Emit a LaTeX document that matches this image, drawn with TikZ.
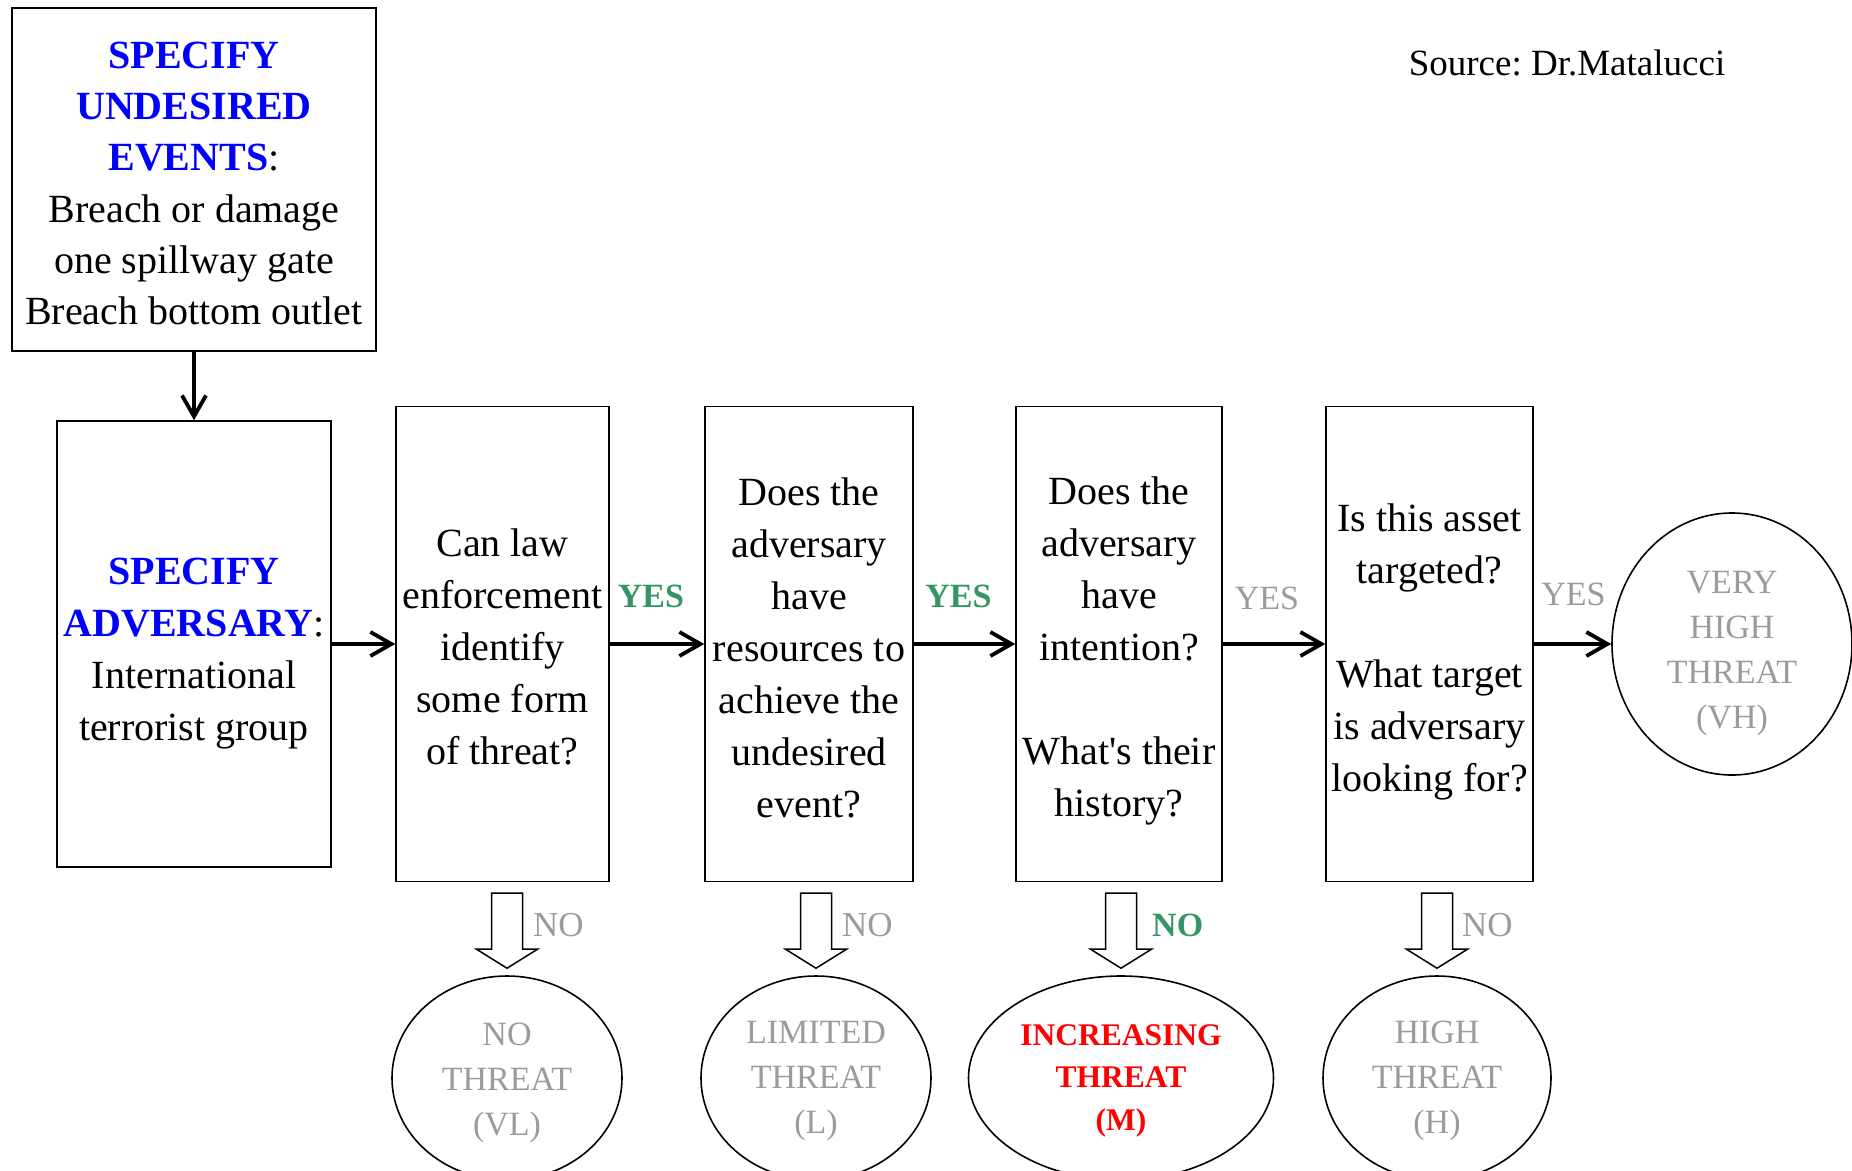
\documentclass[tikz,border=0pt]{standalone}
\usepackage{fontspec}
\setmainfont{Liberation Serif}[Ligatures=TeXOff]
\usetikzlibrary{arrows.meta,shapes.geometric,calc}
\frenchspacing

\definecolor{titleblue}{RGB}{0,0,255}
\definecolor{yesgreen}{RGB}{52,150,100}
\definecolor{mutedgray}{RGB}{155,155,155}
\definecolor{alertred}{RGB}{255,0,0}

% hollow block arrow pointing down onto an outcome ellipse
\newcommand\hollowdown[1]{%
  \draw[hollow] ($(#1.north)+(0,-7)$) -- ++(-30.5,-19) -- ++(15,0) -- ++(0,-56)
    -- ++(31,0) -- ++(0,56) -- ++(15,0) -- cycle;}

\newcommand\hd[1]{\textcolor{titleblue}{\textbf{#1}}}

\begin{document}
\begin{tikzpicture}[x=1pt,y=-1pt,
  frame/.style={draw, line width=1.5pt, inner sep=0pt},
  boxtext/.style={inner sep=0pt, align=center, font=\fontsize{40}{52}\selectfont},
  oval/.style={draw, ellipse, line width=1.6pt, inner sep=0pt},
  ovaltext/.style={inner sep=0pt, align=center, text=mutedgray,
    font=\fontsize{34}{45}\selectfont},
  flow/.style={line width=3.4pt, -{Straight Barb[length=21pt,width=24pt,line width=3.8pt]}},
  hollow/.style={draw, line width=1.5pt, fill=white, line join=miter},
  yesbold/.style={inner sep=0pt, text=yesgreen, font=\bfseries\fontsize{34}{40}\selectfont},
  yesplain/.style={inner sep=0pt, text=mutedgray, font=\fontsize{34}{40}\selectfont},
  noplain/.style={inner sep=0pt, anchor=west, text=mutedgray, font=\fontsize{35}{40}\selectfont},
  nobold/.style={inner sep=0pt, anchor=west, text=yesgreen, font=\bfseries\fontsize{34}{40}\selectfont},
]
\useasboundingbox (0,0) rectangle (1852,1170);
\clip (0,0) rectangle (1852,1170);

% source note
\node[inner sep=0pt, font=\fontsize{37}{44}\selectfont] (src) at (1567,63) {Source: Dr.Matalucci};

% input boxes
\node[frame, minimum width=364pt, minimum height=343pt] (events) at (194,179.5) {};
\node[boxtext, font=\fontsize{40}{51.3}\selectfont] (eventstxt) at ($(events.center)+(0,4)$)
  {\hd{SPECIFY}\\\hd{UNDESIRED}\\\hd{EVENTS}:\\Breach or damage\\one spillway gate\\Breach bottom outlet};
\node[frame, minimum width=274pt, minimum height=446pt] (adv) at (194,644) {};
\node[boxtext] (advtxt) at ($(adv.center)+(0,9.5)$)
  {\hd{SPECIFY}\\\hd{ADVERSARY}:\\International\\terrorist group};

% question boxes
\node[frame, minimum width=213pt, minimum height=475pt] (q1) at (502.5,644) {};
\node[boxtext] (q1txt) at ($(q1.center)+(0,3)$)
  {Can law\\enforcement\\identify\\some form\\of threat?};
\node[frame, minimum width=208pt, minimum height=475pt] (q2) at (809,644) {};
\node[boxtext] (q2txt) at ($(q2.center)+(0,3.5)$)
  {Does the\\adversary\\have\\resources to\\achieve the\\undesired\\event?};
\node[frame, minimum width=206pt, minimum height=475pt] (q3) at (1119,644) {};
\node[boxtext] (q3txt) at ($(q3.center)+(0,7)$)
  {Does the\\adversary\\have\\intention?\\[52pt]What's their\\history?};
\node[frame, minimum width=207pt, minimum height=475pt] (q4) at (1429.5,644) {};
\node[boxtext] (q4txt) at ($(q4.center)+(0,7.5)$)
  {Is this asset\\targeted?\\[52pt]What target\\is adversary\\looking for?};

% outcomes
\node[oval, minimum width=240pt, minimum height=262pt] (vh) at (1732,644) {};
\node[ovaltext] (vhtxt) at ($(vh.center)+(0,9)$) {VERY\\HIGH\\THREAT\\(VH)};
\node[oval, minimum width=230pt, minimum height=204pt] (vl) at (507,1078) {};
\node[ovaltext] (vltxt) at ($(vl.center)+(0,5)$) {NO\\THREAT\\(VL)};
\node[oval, minimum width=230pt, minimum height=204pt] (lo) at (816,1078) {};
\node[ovaltext] (lotxt) at ($(lo.center)+(0,3)$) {LIMITED\\THREAT\\(L)};
\node[oval, minimum width=305pt, minimum height=204pt] (md) at (1121,1078) {};
\node[ovaltext, text=alertred, font=\bfseries\fontsize{31.5}{42.5}\selectfont] (mdtxt)
  at ($(md.center)+(0,2.5)$) {INCREASING\\THREAT\\(M)};
\node[oval, minimum width=228pt, minimum height=204pt] (hi) at (1437,1078) {};
\node[ovaltext] (hitxt) at ($(hi.center)+(0,2.5)$) {HIGH\\THREAT\\(H)};

% flow arrows
\draw[flow] (events.south) -- (adv.north);
\draw[flow] (adv.east) -- (q1.west);
\draw[flow] (q1.east) -- node[yesbold, midway, xshift=-6pt, yshift=48pt] (y1) {YES} (q2.west);
\draw[flow] (q2.east) -- node[yesbold, midway, xshift=-6pt, yshift=48pt] (y2) {YES} (q3.west);
\draw[flow] (q3.east) -- node[yesplain, midway, xshift=-7pt, yshift=46pt] (y3) {YES} (q4.west);
\draw[flow] (q4.east) -- node[yesplain, midway, xshift=1pt, yshift=50pt] (y4) {YES} (vh.west);

% "no" branches
\hollowdown{vl}
\hollowdown{lo}
\hollowdown{md}
\hollowdown{hi}
\node[noplain] (n1) at ($(vl.north)+(26,-50)$) {NO};
\node[noplain] (n2) at ($(lo.north)+(26,-50)$) {NO};
\node[nobold]  (n3) at ($(md.north)+(31,-50)$) {NO};
\node[noplain] (n4) at ($(hi.north)+(25,-50)$) {NO};
\end{tikzpicture}
\end{document}
